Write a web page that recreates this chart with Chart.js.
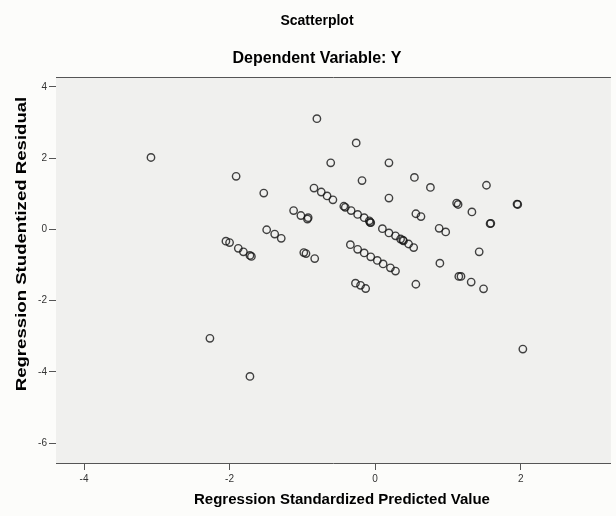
<!DOCTYPE html>
<html>
<head>
<meta charset="utf-8">
<script src="https://cdn.jsdelivr.net/npm/chart.js@4.4.1/dist/chart.umd.min.js"></script>
<style>
  html, body { margin: 0; padding: 0; background: #fcfcfa; overflow: hidden; }
  #c { display: block; }
</style>
</head>
<body>
<canvas id="c" width="616" height="516"></canvas>
<script>
// values
const predicted = [
  -3.08, -1.91, -0.80, -0.26, -0.61, 0.19, -0.18, -1.53, 0.19,
  -0.84, -0.74, -0.66, -0.58,
  -1.12, -1.02, -0.93, -0.92,
  -0.43, -0.41, -0.33, -0.24, -0.15, -0.08, -0.06, -0.07,
  0.10, 0.19, 0.28, 0.35, 0.38, 0.39, 0.46, 0.53,
  -1.49, -1.38, -1.29,
  -2.05, -2.00, -1.88, -1.81, -1.72, -1.70,
  -0.98, -0.95, -0.83,
  -0.34, -0.24, -0.15, -0.06, 0.03, 0.11, 0.21, 0.28,
  -0.27, -0.20, -0.13,
  0.54, 0.76, 1.53, 1.12, 1.14, 0.56, 0.63, 1.33, 1.59, 1.58,
  0.88, 0.97, 1.43, 0.89, 1.15, 1.18, 1.32, 0.56, 1.49,
  1.95, 1.96, 2.03, -2.27, -1.72
];
const residual = [
  2.02, 1.49, 3.11, 2.43, 1.87, 1.87, 1.37, 1.02, 0.88,
  1.16, 1.05, 0.94, 0.83,
  0.53, 0.39, 0.29, 0.33,
  0.65, 0.62, 0.53, 0.42, 0.33, 0.24, 0.19, 0.20,
  0.02, -0.10, -0.18, -0.27, -0.30, -0.32, -0.41, -0.51,
  -0.01, -0.13, -0.25,
  -0.33, -0.37, -0.53, -0.63, -0.73, -0.76,
  -0.65, -0.68, -0.82,
  -0.43, -0.56, -0.66, -0.77, -0.87, -0.97, -1.08, -1.17,
  -1.51, -1.57, -1.66,
  1.46, 1.18, 1.24, 0.74, 0.70, 0.44, 0.36, 0.49, 0.17, 0.16,
  0.03, -0.07, -0.63, -0.95, -1.32, -1.32, -1.48, -1.54, -1.67,
  0.71, 0.70, -3.36, -3.06, -4.13
];
const xTicks = [-4, -2, 0, 2];
const yTicks = [-6, -4, -2, 0, 2, 4];

const FONT = "'Liberation Sans', Arial, sans-serif";

const frame = {
  id: 'frame',
  beforeDatasetsDraw(chart) {
    const {ctx, chartArea: a} = chart;
    ctx.save();
    ctx.fillStyle = '#f0f0ee';
    ctx.fillRect(a.left, a.top, a.right - a.left, a.bottom - a.top);
    ctx.strokeStyle = '#555';
    ctx.lineWidth = 1;
    ctx.beginPath();
    ctx.moveTo(a.left, a.top + 0.5);
    ctx.lineTo(a.right, a.top + 0.5);
    ctx.stroke();
    ctx.restore();
  },
  afterDraw(chart) {
    const {ctx} = chart;
    ctx.save();
    ctx.fillStyle = '#000';
    ctx.font = 'bold 15px ' + FONT;
    ctx.textAlign = 'center';
    ctx.textBaseline = 'middle';
    ctx.fillText('Regression Standardized Predicted Value', 342, 500);
    // y title is drawn longer in the original, stretch along its length
    ctx.translate(22, 244);
    ctx.rotate(-Math.PI / 2);
    ctx.scale(1.24, 1);
    ctx.fillText('Regression Studentized Residual', 0, 0);
    ctx.restore();
  }
};

new Chart(document.getElementById('c'), {
  type: 'scatter',
  data: {
    datasets: [{
      data: predicted.map((x, i) => ({x, y: residual[i]})),
      pointStyle: 'circle',
      pointRadius: 3.7,
      pointHoverRadius: 3.7,
      pointBorderWidth: 1.4,
      pointBackgroundColor: 'rgba(0,0,0,0)',
      pointBorderColor: 'rgba(20,20,20,0.8)'
    }]
  },
  options: {
    responsive: false,
    animation: false,
    events: [],
    layout: { padding: { top: 0, right: 0, bottom: 0, left: 18 } },
    plugins: {
      legend: { display: false },
      tooltip: { enabled: false },
      title: {
        display: true, text: 'Scatterplot', color: '#000',
        font: { family: FONT, size: 14, weight: 'bold' },
        padding: { top: 12.6, bottom: 0 }
      },
      subtitle: {
        display: true, text: 'Dependent Variable: Y', color: '#000',
        font: { family: FONT, size: 16, weight: 'bold' },
        padding: { top: 20, bottom: 8.4 }
      }
    },
    scales: {
      x: {
        type: 'linear', min: -4.385, max: 3.24,
        afterBuildTicks: s => { s.ticks = xTicks.map(v => ({value: v})); },
        afterFit: s => { s.height = 53; },
        grid: { drawOnChartArea: false, drawTicks: true, tickLength: 7, color: '#555' },
        border: { display: true, color: '#555', width: 1 },
        ticks: { color: '#333', padding: 3, font: { family: FONT, size: 10 } }
      },
      y: {
        type: 'linear', min: -6.56, max: 4.28,
        afterBuildTicks: s => { s.ticks = yTicks.map(v => ({value: v})); },
        afterFit: s => { s.width = 38; },
        grid: { drawOnChartArea: false, drawTicks: true, tickLength: 7, color: '#555' },
        border: { display: true, color: '#555', width: 1 },
        ticks: { color: '#333', padding: 2, font: { family: FONT, size: 10 } }
      }
    }
  },
  plugins: [frame]
});
</script>
</body>
</html>
